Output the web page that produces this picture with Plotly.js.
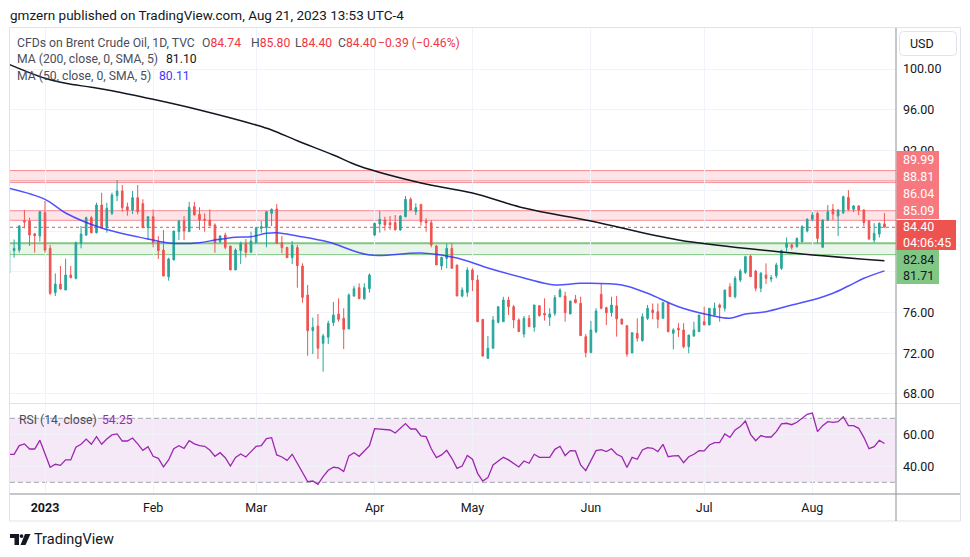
<!DOCTYPE html>
<html><head><meta charset="utf-8">
<script src="https://cdn.plot.ly/plotly-3.0.1.min.js"></script>
<style>html,body{margin:0;padding:0;background:#fff;}#chart{width:970px;height:557px;}</style>
</head><body><div id="chart"></div>
<script>
// ---------- DATA ----------
const opens = [
79.9,82.1,82.16,85.05,85.02,83.77,83.54,85.84,82.33,77.96,
78.81,78.22,79.7,79.37,82.82,83.64,85.35,83.87,86.6,84.36,
85.78,87.52,87.98,86.43,86.1,87.32,86.73,84.36,85.45,82.99,
82.16,79.54,81.18,83.97,85.02,83.97,86.43,85.68,85.19,85.12,
84.63,82.99,83.64,82.56,80.2,82.1,82.82,81.94,82.89,84.3,
84.36,85.78,86.2,82.89,82.43,81.41,82.4,80.59,77.73,74.22,
74.68,72.97,73.57,75.01,75.86,75.43,74.38,77.63,78.45,77.37,
78.35,83.64,84.73,85.12,84.86,84.86,84.14,85.45,87.16,85.94,
86.66,85.02,84.86,82.56,80.59,81.34,82.33,80.69,77.63,77.99,
80.2,79.21,75.33,71.49,72.48,75.04,75.1,77.24,76.58,75.27,
73.89,75.43,74.55,76.68,75.92,75.53,75.92,77.56,77.63,75.86,
77.3,76.91,73.63,72.05,74.12,77.8,76.48,75.99,76.68,75.37,
74.71,72.02,73.96,73.24,75.43,76.26,76.09,75.44,76.9,73.96,
74.45,74.29,72.64,73.7,74.12,75.1,74.78,75.76,76.75,76.42,
78.55,77.57,79.21,79.96,81.57,80.09,78.39,79.7,79.31,79.63,
80.36,82.43,82.66,82.49,82.98,84.04,85.19,85.78,82.43,85.12,
86.17,85.51,85.84,87.35,86.17,86.5,86.1,85.02,83.15,83.74,
84.74];
const highs = [
82.2,83.2,84.63,86.1,85.35,83.8,86.0,87.0,82.66,79.86,
80.59,81.3,80.59,82.99,84.53,85.45,85.5,86.83,87.81,86.83,
87.81,89.06,88.57,86.83,87.98,88.57,87.16,85.45,86.17,83.54,
84.14,81.41,84.04,85.12,85.51,86.9,86.9,86.37,85.78,86.17,
84.79,83.64,83.87,82.56,82.33,82.99,83.25,83.97,84.46,85.02,
86.0,86.27,86.7,83.54,82.43,83.05,82.66,80.85,78.72,75.5,
75.86,73.89,75.2,77.04,77.4,76.42,77.89,78.62,78.88,78.88,
79.86,84.86,86.01,85.45,85.51,85.61,85.61,87.48,87.35,86.76,
86.66,85.28,85.12,82.66,81.51,82.82,82.82,80.69,78.49,80.46,
80.36,79.7,75.33,73.7,75.66,76.58,77.56,77.56,76.75,75.43,
75.66,75.76,76.75,76.68,77.4,76.42,77.73,78.39,78.06,77.14,
77.73,77.56,73.89,75.17,76.42,78.81,76.58,77.56,77.63,75.37,
74.71,74.02,75.43,75.92,76.75,76.9,76.9,77.0,77.07,74.45,
74.95,74.95,73.79,75.1,75.76,76.58,76.42,76.98,76.9,78.23,
78.9,79.6,80.3,81.6,81.7,80.2,80.0,80.85,79.7,80.9,
82.2,83.4,82.8,83.4,84.6,85.3,85.9,85.94,85.19,86.6,
86.7,86.2,87.52,88.07,86.6,86.6,86.2,85.1,84.8,84.9,
85.80];
const lows = [
79.7,81.4,81.9,84.3,82.56,81.9,82.99,81.9,77.73,77.63,
78.29,78.22,79.37,79.27,82.33,83.54,83.8,83.8,84.3,83.87,
85.61,86.99,85.94,85.55,85.71,85.68,84.36,83.15,82.43,81.28,
79.6,79.14,81.18,83.15,83.15,83.97,85.61,84.14,83.97,84.56,
81.9,82.82,82.23,80.2,80.2,80.79,81.44,81.9,82.72,83.87,
82.43,84.53,82.82,81.84,81.41,80.79,78.45,76.98,71.75,71.92,
71.42,70.18,72.9,74.68,75.1,72.41,74.38,77.56,77.37,77.24,
77.96,83.54,83.87,84.07,84.14,84.14,84.07,85.38,86.04,85.61,
84.56,83.97,82.43,80.69,80.2,80.36,80.36,77.63,77.5,77.56,
78.12,75.1,71.65,71.42,72.48,74.94,75.1,75.76,74.45,74.12,
73.53,74.61,74.12,75.6,75.2,74.68,75.66,77.5,75.1,75.86,
76.91,73.7,71.59,72.05,73.96,76.32,74.78,75.6,73.63,74.78,
71.65,72.02,73.14,73.14,75.27,75.34,74.45,75.44,74.05,72.38,
73.6,72.48,71.99,73.6,74.12,74.78,74.78,75.76,75.1,76.1,
77.57,77.4,79.0,79.8,79.5,78.1,78.0,78.81,79.0,79.4,
80.2,82.0,82.2,82.4,82.9,83.9,85.0,82.82,82.43,85.0,
85.12,83.54,85.7,86.0,85.9,85.6,84.5,83.15,82.9,83.4,
84.40];
const closes = [
82.1,82.33,84.53,84.92,83.64,83.57,85.94,82.16,77.9,78.81,
78.32,79.7,79.44,82.89,83.74,85.35,83.87,86.6,84.36,86.27,
87.58,87.98,86.34,86.1,87.32,85.94,84.36,85.45,82.89,82.1,
79.6,81.28,84.04,85.02,84.04,86.37,85.61,85.12,85.12,84.56,
82.89,83.54,82.43,80.2,82.16,82.82,81.94,83.05,84.36,84.46,
85.94,86.17,82.82,82.4,81.41,82.63,80.62,77.5,74.22,74.55,
72.48,73.7,74.94,75.76,75.33,74.35,77.73,78.35,77.37,78.45,
79.7,84.79,85.19,84.63,84.63,84.14,85.51,87.16,86.1,86.34,
84.95,84.86,82.66,80.69,81.44,82.33,80.36,77.63,78.22,80.2,
79.21,75.1,71.72,72.48,75.27,76.58,77.24,76.58,75.27,74.12,
75.43,74.61,76.75,75.7,75.76,75.86,77.47,78.22,75.99,77.14,
76.97,73.73,72.05,74.28,76.16,76.42,75.99,76.75,75.37,74.88,
71.92,74.02,73.47,75.6,76.42,75.99,75.34,76.98,74.12,74.29,
74.29,72.64,73.79,74.29,75.76,74.78,76.42,76.42,76.49,78.23,
77.57,79.37,80.09,81.51,79.54,78.39,79.86,79.37,79.44,80.69,
82.1,82.82,82.43,83.31,84.46,85.19,85.61,83.31,85.12,85.94,
85.71,86.1,87.42,86.17,86.5,86.1,84.86,83.25,83.8,84.79,
84.40];
const rsi = [
47.5,47.5,52.9,54,50.8,50.8,56.25,48,39.4,41.25,
40.6,44,44,51.9,53.75,57,53.75,58.5,53.75,57,
59.6,60.2,55.8,55.8,57.7,54,50,52.3,46.25,45,
39.6,44,51,52.9,51.25,56,54,52.9,52.5,50.2,
46.25,48.5,45.4,40.2,45.6,47.7,45.8,49.2,52.5,52.9,
57.3,57.9,47.1,45.8,43.75,47.5,41.5,35.6,30.4,30.8,
28.75,33.5,37.5,39.4,39,36.7,46.5,48.5,46.25,49.6,
52.9,63.5,63.3,62.9,62.7,60.8,63.75,66.7,63.3,63.3,
59,58.5,51,45.4,47.1,50,45,38.75,40.2,46.7,
44.4,35.6,30.8,32.9,40.8,43.3,45.6,44,41.9,39.6,
43.3,41.9,47.5,45.6,45.6,45.6,50.6,52.5,46.7,49.8,
49.6,40.8,37.3,44,49.8,50.4,49.2,51,47.5,46,
39.2,45.6,44.4,50.2,51.7,51.25,49.2,53.75,46,46.5,
46.7,42.3,46,47.5,49.8,49.6,53.3,54.8,54.8,60.2,
58.1,62.7,64.8,68.3,60,56,59.2,58.3,58.3,61.7,
66.5,66.9,66,67.5,70,72.5,73.3,61.7,65.4,67.9,
67.5,67.9,71,65.4,65.4,63.75,58.1,51,52.3,56.25,
54.25];
const ma200Idx = [0,7,11,16,20,28,37,48,51,56,63,68,80,90,100,113,130,150,170];
const ma200Val = [100.46,99.08,98.59,98.2,97.86,97.01,95.96,94.48,93.99,92.93,91.53,90.44,88.77,87.78,86.3,85.02,83.15,81.97,81.10];
const ma50Idx = [0,7,11,18,27,31,37,40,44,47,50,52,56,62,70,80,87,93,100,106,111,119,124,130,136,140,143,147,152,156,160,163,166,170];
const ma50Val = [88.25,87.16,85.81,84.33,83.25,82.86,82.89,83.15,83.42,83.48,83.81,83.87,83.55,82.96,81.67,81.87,81.38,80.39,79.41,78.72,78.88,78.72,77.9,76.58,75.76,75.44,75.86,76.09,76.75,77.24,77.9,78.62,79.38,80.11];
const monthTickIdx = [7,28,48,71,90,113,135,156];
const monthLabels = ['<b>2023</b>','Feb','Mar','Apr','May','Jun','Jul','Aug'];
const priceTicks = [68,72,76,80,84,88,92,96,100];
const coveredPriceTicks = [80,84,88];   // hidden behind the marker labels in the reference
const rsiTicks = [40,60];
const upperZone = [88.97,89.99];
const upperLine = 88.81;
const midZone = [85.09,86.04];
const supportZone = [81.71,82.84];
const rsiBand = [30,70];
const countdown = '04:06:45';

// ---------- STYLE / LAYOUT ----------
const FONT = 'Roboto, "Liberation Sans", Arial, sans-serif';
const UP = '#26a69a', DN = '#ef5350', RED = '#f23645', BLUE = '#3b3bff', PURPLE = '#9c27b0';
const L=10, R=896, T=28, B=494;
const PX = x => (x-L)/(R-L);
const PY = y => (B-y)/(B-T);
const idx = closes.map((_, i) => i);
const last = closes.length - 1;
const f2 = v => v.toFixed(2);
const sgn = v => (v < 0 ? '\u2212' : '+') + Math.abs(v).toFixed(2);

const traces = [
  {type:'candlestick', x:idx, open:opens, high:highs, low:lows, close:closes, xaxis:'x', yaxis:'y',
   increasing:{line:{color:UP,width:1}, fillcolor:UP}, decreasing:{line:{color:DN,width:1}, fillcolor:DN},
   whiskerwidth:0, hoverinfo:'none', showlegend:false},
  {type:'scatter', mode:'lines', x:ma200Idx, y:ma200Val, xaxis:'x', yaxis:'y', line:{color:'#131722', width:1.5, shape:'spline'}, hoverinfo:'skip', showlegend:false},
  {type:'scatter', mode:'lines', x:ma50Idx, y:ma50Val, xaxis:'x', yaxis:'y', line:{color:'rgba(50,50,255,0.85)', width:1.5, shape:'spline'}, hoverinfo:'skip', showlegend:false},
  {type:'scatter', mode:'lines', x:idx, y:rsi, xaxis:'x', yaxis:'y2', line:{color:PURPLE, width:1.3}, hoverinfo:'skip', showlegend:false}
];

const shapes = [];
const hline = (v, ref, color, width, dash, layer) => shapes.push({type:'line', xref:'x domain', yref:ref, x0:0, x1:1, y0:v, y1:v, line:{color, width, dash:dash||'solid'}, layer:layer||'below'});
const zone = (a, ref, fill) => shapes.push({type:'rect', xref:'x domain', yref:ref, x0:0, x1:1, y0:a[0], y1:a[1], fillcolor:fill, line:{width:0}, layer:'below'});
const ZL = 'rgba(242,54,69,0.55)';
zone(upperZone, 'y', 'rgba(242,54,69,0.13)');
hline(upperZone[0], 'y', ZL, 1); hline(upperZone[1], 'y', ZL, 1); hline(upperLine, 'y', ZL, 1);
zone(midZone, 'y', 'rgba(242,54,69,0.13)');
hline(midZone[0], 'y', ZL, 1); hline(midZone[1], 'y', ZL, 1);
zone(supportZone, 'y', 'rgba(76,175,80,0.13)');
hline(supportZone[1], 'y', '#81c784', 2); hline(supportZone[0], 'y', '#81c784', 1);
hline(closes[last], 'y', DN, 1, 'dot');
zone(rsiBand, 'y2', 'rgba(156,39,176,0.10)');
hline(rsiBand[0], 'y2', '#a3a6ae', 1, '5px,3px'); hline(rsiBand[1], 'y2', '#a3a6ae', 1, '5px,3px');

const pline = (x0,y0,x1,y1,color,w) => shapes.push({type:'line', xref:'paper', yref:'paper', x0:PX(x0), y0:PY(y0), x1:PX(x1), y1:PY(y1), line:{color, width:w||1}, layer:'above'});
const prect = (x0,y0,x1,y1,fill,lc) => shapes.push({type:'rect', xref:'paper', yref:'paper', x0:PX(x0), y0:PY(y0), x1:PX(x1), y1:PY(y1), fillcolor:fill, line:{color:lc||fill, width:lc?1:0}, layer:'above'});
// frame and separators
shapes.push({type:'rect', xref:'paper', yref:'paper', x0:PX(9.5), y0:PY(521), x1:PX(960.5), y1:PY(27.5), line:{color:'#e0e3eb', width:1}, fillcolor:'rgba(0,0,0,0)', layer:'above'});
pline(10, 403.5, 960, 403.5, '#e0e3eb', 1);
pline(10, 494, 960, 494, '#8c8f98', 1);
pline(896, 28, 896, 521, '#8c8f98', 1);
// price-axis label boxes
const LR = '#f7797f';
prect(896.5,151,939,168,LR); prect(896.5,168,939,185,LR); prect(896.5,185,939,202,LR); prect(896.5,202,939,219,LR);
prect(896.5,220,956,250,'#ef5350');
prect(896.5,250,939,267,'#81c784'); prect(896.5,267,939,284,'#81c784');
// USD button (rounded)
(function(){
  const x0=899.5,x1=956.5,y0=31.5,y1=55.5,r=4;
  const p = `M${PX(x0+r)},${PY(y0)} L${PX(x1-r)},${PY(y0)} Q${PX(x1)},${PY(y0)} ${PX(x1)},${PY(y0+r)} L${PX(x1)},${PY(y1-r)} Q${PX(x1)},${PY(y1)} ${PX(x1-r)},${PY(y1)} L${PX(x0+r)},${PY(y1)} Q${PX(x0)},${PY(y1)} ${PX(x0)},${PY(y1-r)} L${PX(x0)},${PY(y0+r)} Q${PX(x0)},${PY(y0)} ${PX(x0+r)},${PY(y0)} Z`;
  shapes.push({type:'path', xref:'paper', yref:'paper', path:p, fillcolor:'#ffffff', line:{color:'#e0e3eb', width:1}, layer:'above'});
})();
// TradingView logo
(function(){
  const pts = a => 'M' + a.map(q => `${PX(q[0])},${PY(q[1])}`).join(' L') + ' Z';
  shapes.push({type:'path', xref:'paper', yref:'paper', path:pts([[10,534],[19,534],[19,545],[14.5,545],[14.5,538],[10,538]]), fillcolor:'#131722', line:{width:0}, layer:'above'});
  shapes.push({type:'circle', xref:'paper', yref:'paper', x0:PX(19.6), x1:PX(23.4), y0:PY(534.2), y1:PY(538), fillcolor:'#131722', line:{width:0}, layer:'above'});
  shapes.push({type:'path', xref:'paper', yref:'paper', path:pts([[25,534],[30.5,534],[25.5,545],[20.5,545]]), fillcolor:'#131722', line:{width:0}, layer:'above'});
})();

const anns = [];
function txt(text, x, y, size, color, extra) {
  anns.push(Object.assign({xref:'paper', yref:'paper', x:PX(x), y:PY(y), xanchor:'left', yanchor:'middle', showarrow:false, borderpad:0, text:text, font:{family:FONT, size:size, color:color}}, extra||{}));
}
const LG = '#4a4e5a', LS = 12.2;
txt('gmzern published on TradingView.com, Aug 21, 2023 13:53 UTC-4', 9, 15, 13.5, '#131722');
txt('CFDs on Brent Crude Oil, 1D, TVC', 16, 42.5, LS, LG);
const rs = v => `<span style="color:${RED}">${v}</span>`;
txt('O' + rs(f2(opens[last])), 200.5, 42.5, LS, LG);
txt('H' + rs(f2(highs[last])), 249.5, 42.5, LS, LG);
txt('L' + rs(f2(lows[last])), 294, 42.5, LS, LG);
txt('C' + rs(f2(closes[last])), 337, 42.5, LS, LG);
const chg = closes[last] - closes[last-1];
txt(rs(`${sgn(chg)} (${sgn(chg / closes[last-1] * 100)}%)`), 376.5, 42.5, LS, LG);
txt('MA (200, close, 0, SMA, 5)', 16, 59.5, LS, LG);
txt(f2(ma200Val[ma200Val.length-1]), 164.5, 59.5, LS, '#131722');
txt('MA (50, close, 0, SMA, 5)', 16, 76, LS, LG);
txt(f2(ma50Val[ma50Val.length-1]), 158, 76, LS, BLUE);
txt('RSI (14, close)', 17.5, 419.5, LS, LG);
txt(f2(rsi[last]), 101, 419.5, LS, PURPLE);
txt('TradingView', 33, 539, 14.5, '#131722');
txt('USD', 909, 43.5, 12.5, '#131722');
// price-axis labels
txt(f2(upperZone[1]), 902, 160, 12.5, '#ffffff');
txt(f2(upperLine), 902, 176.5, 12.5, '#ffffff');
txt(f2(midZone[1]), 902, 193.5, 12.5, '#ffffff');
txt(f2(midZone[0]), 902, 210.5, 12.5, '#ffffff');
txt(f2(closes[last]) + '<br>' + countdown, 902, 234.5, 12.5, '#ffffff', {align:'left'});
txt(f2(supportZone[1]), 902, 259, 12.5, '#131722');
txt(f2(supportZone[0]), 902, 275.5, 12.5, '#131722');

const axFont = {family:FONT, size:12.5, color:'#131722'};
const priceTickText = priceTicks.map(v => coveredPriceTicks.includes(v) ? '' : f2(v));
const layout = {
  width:970, height:557, margin:{l:L, r:970-R, t:T, b:557-B},
  paper_bgcolor:'#ffffff', plot_bgcolor:'#ffffff', showlegend:false, boxgap:0.55,
  font:{family:FONT},
  xaxis:{range:[(L-8.95)/5.15, (R-8.95)/5.15], anchor:'y2', tickmode:'array', tickvals:monthTickIdx, ticktext:monthLabels,
    showgrid:true, gridcolor:'#f0f3fa', gridwidth:1, zeroline:false, showline:false, ticks:'', tickfont:axFont,
    ticklabelstandoff:4, rangeslider:{visible:false}, fixedrange:true},
  yaxis:{domain:[(B-403)/(B-T), 1], range:[67.09, 104.04], side:'right', anchor:'x', tickmode:'array', tickvals:priceTicks, ticktext:priceTickText,
    showgrid:true, gridcolor:'#f0f3fa', zeroline:false, showline:false, ticks:'', tickfont:axFont, ticklabelstandoff:6, fixedrange:true},
  yaxis2:{domain:[0, (B-404)/(B-T)], range:[22.69, 78.94], side:'right', anchor:'x', tickmode:'array', tickvals:rsiTicks,
    tickformat:'.2f', showgrid:true, gridcolor:'#f0f3fa', zeroline:false, showline:false, ticks:'', tickfont:axFont, ticklabelstandoff:6, fixedrange:true},
  shapes:shapes, annotations:anns
};
Plotly.newPlot('chart', traces, layout, {displayModeBar:false, staticPlot:true});
</script>
</body></html>
